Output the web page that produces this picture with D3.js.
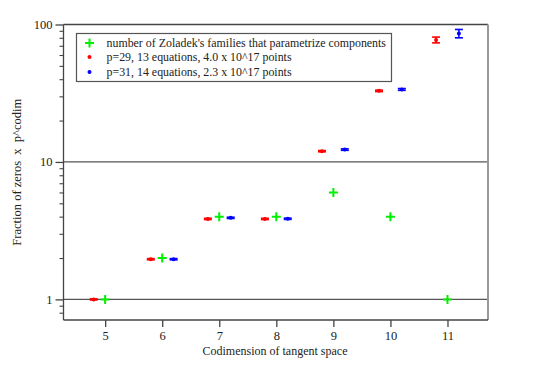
<!DOCTYPE html>
<html><head><meta charset="utf-8">
<script src="https://cdn.jsdelivr.net/npm/d3@7"></script>
<style>body{margin:0;background:#fff}svg{display:block}svg text{font-family:'Liberation Serif','DejaVu Serif',serif !important;fill:#222}</style>
</head><body><svg id="c" width="550" height="366"></svg>
<script>
const codims = [5, 6, 7, 8, 9, 10, 11];
const zoladek = [1, 2, 4, 4, 6, 4, 1];
const p29x = [5, 6, 7, 8, 9, 10, 11];
const p29 = [1.0, 1.96, 3.85, 3.85, 11.98, 32.9, 77];
const p29lo = [0.99, 1.94, 3.81, 3.81, 11.85, 32.5, 73.5];
const p29hi = [1.01, 1.98, 3.89, 3.89, 12.1, 33.3, 81];
const p31x = [6, 7, 8, 9, 10, 11];
const p31 = [1.96, 3.92, 3.86, 12.3, 33.7, 86];
const p31lo = [1.94, 3.88, 3.82, 12.15, 33.2, 80];
const p31hi = [1.98, 3.96, 3.9, 12.45, 34.2, 92];
const xTicks = [5, 6, 7, 8, 9, 10, 11];
const yMajor = [1, 10, 100];
const yMinor = [0.8, 0.9, 2, 3, 4, 5, 6, 7, 8, 9, 20, 30, 40, 50, 60, 70, 80, 90];
const legendLabels = ["number of Zoladek's families that parametrize components",
  "p=29, 13 equations, 4.0 x 10^17 points",
  "p=31, 14 equations, 2.3 x 10^17 points"];

const FONT = "'Liberation Serif','DejaVu Serif',serif";
const L = 63.5, R = 488, T = 24.5, B = 320;
const svg = d3.select("#c");
const x = d3.scaleLinear().domain([4.27, 11.71]).range([L, R]);
const y = d3.scaleLog().domain([0.708, 100]).range([B, T]);

// grid lines at 1 and 10
svg.append("g").selectAll("line").data([1, 10]).join("line")
  .attr("x1", L).attr("x2", R).attr("y1", d => y(d)).attr("y2", d => y(d))
  .attr("stroke", "#555").attr("stroke-width", 1.3);

// frame: top, right
svg.append("line").attr("x1", L).attr("x2", R).attr("y1", T).attr("y2", T).attr("stroke", "#444").attr("stroke-width", 1.3);
svg.append("line").attr("x1", R).attr("x2", R).attr("y1", T).attr("y2", B).attr("stroke", "#999").attr("stroke-width", 2);

// x axis
const xAxis = svg.append("g").attr("transform", `translate(0,${B})`)
  .call(d3.axisBottom(x).tickValues(xTicks).tickSize(7).tickPadding(4).tickFormat(d3.format("d")));
xAxis.attr("font-family", FONT);
xAxis.select(".domain").attr("stroke", "#444").attr("stroke-width", 1.3).attr("d", `M${L},0H${R}`);
xAxis.selectAll(".tick line").attr("stroke", "#444").attr("stroke-width", 1.3);
xAxis.selectAll("text").attr("font-size", 12.5).attr("fill", "#222");

// y axis
const yAxis = svg.append("g").attr("transform", `translate(${L},0)`)
  .call(d3.axisLeft(y).tickValues(yMajor).tickSize(8).tickPadding(3).tickFormat(d3.format("d")));
yAxis.attr("font-family", FONT);
yAxis.select(".domain").attr("stroke", "#444").attr("stroke-width", 1.3).attr("d", `M0,${T}V${B}`);
yAxis.selectAll(".tick line").attr("stroke", "#444").attr("stroke-width", 1.3);
yAxis.selectAll("text").attr("font-size", 12.5).attr("fill", "#222");
const yMin = svg.append("g").attr("transform", `translate(${L},0)`)
  .call(d3.axisLeft(y).tickValues(yMinor).tickSize(4).tickFormat(""));
yMin.select(".domain").remove();
yMin.selectAll(".tick line").attr("stroke", "#444").attr("stroke-width", 1.1);

// axis labels
svg.append("text").attr("x", 275).attr("y", 355).attr("text-anchor", "middle").attr("font-size", 12)
  .attr("font-family", FONT).text("Codimension of tangent space");
svg.append("text").attr("transform", `translate(21,${(T + B) / 2}) rotate(-90)`).attr("text-anchor", "middle")
  .attr("font-size", 12.5).attr("font-family", FONT).attr("xml:space", "preserve").text("Fraction of zeros  x  p^codim");

// error-bar series
function errSeries(xs, vals, lo, hi, off, color) {
  const g = svg.append("g");
  const data = xs.map((c, i) => ({cx: x(c + off), v: vals[i], lo: lo[i], hi: hi[i]}));
  g.selectAll(".v").data(data).join("line")
    .attr("x1", d => d.cx).attr("x2", d => d.cx).attr("y1", d => y(d.lo)).attr("y2", d => y(d.hi))
    .attr("stroke", color).attr("stroke-width", 1.5);
  g.selectAll(".cl").data(data).join("line")
    .attr("x1", d => d.cx - 4).attr("x2", d => d.cx + 4).attr("y1", d => y(d.lo)).attr("y2", d => y(d.lo))
    .attr("stroke", color).attr("stroke-width", 1.6);
  g.selectAll(".ch").data(data).join("line")
    .attr("x1", d => d.cx - 4).attr("x2", d => d.cx + 4).attr("y1", d => y(d.hi)).attr("y2", d => y(d.hi))
    .attr("stroke", color).attr("stroke-width", 1.6);
  g.selectAll("circle").data(data).join("circle")
    .attr("cx", d => d.cx).attr("cy", d => y(d.v)).attr("r", 2).attr("fill", color);
}
errSeries(p29x, p29, p29lo, p29hi, -0.2, "#ff0000");
errSeries(p31x, p31, p31lo, p31hi, 0.2, "#0000ff");

// green pluses
function plusPath(cx, cy, s) {
  return `M${cx - s},${cy}H${cx + s}M${cx},${cy - s}V${cy + s}`;
}
svg.append("g").selectAll("path").data(codims.map((c, i) => ({c, v: zoladek[i]}))).join("path")
  .attr("d", d => plusPath(x(d.c), y(d.v), 4.5)).attr("stroke", "#00ee00").attr("stroke-width", 2).attr("fill", "none");

// legend
const lg = svg.append("g");
lg.append("rect").attr("x", 76.5).attr("y", 33.5).attr("width", 315).attr("height", 48)
  .attr("fill", "#fff").attr("stroke", "#555").attr("stroke-width", 1.2);
const ly = [43, 57, 72];
lg.append("path").attr("d", plusPath(89.5, ly[0], 4.5)).attr("stroke", "#00ee00").attr("stroke-width", 2);
lg.append("circle").attr("cx", 89.5).attr("cy", ly[1]).attr("r", 2).attr("fill", "#ff0000");
lg.append("circle").attr("cx", 89.5).attr("cy", ly[2]).attr("r", 2).attr("fill", "#0000ff");
lg.selectAll("text").data(legendLabels).join("text")
  .attr("x", 106.5).attr("y", (d, i) => ly[i]).attr("dy", "0.35em").attr("font-size", 11.9)
  .attr("font-family", FONT).text(d => d);
</script></body></html>
